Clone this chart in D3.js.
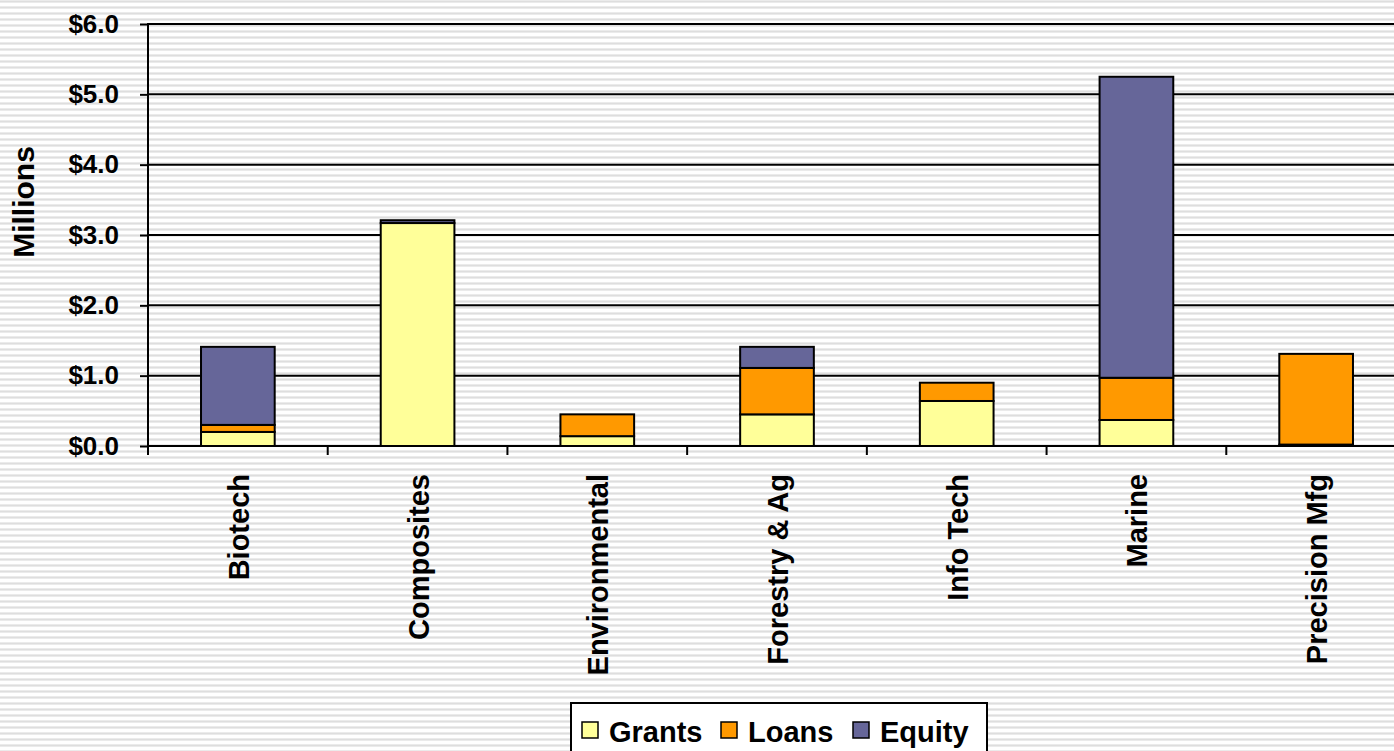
<!DOCTYPE html>
<html><head><meta charset="utf-8">
<script src="https://cdn.jsdelivr.net/npm/d3@7"></script>
<style>html,body{margin:0;padding:0;background:#fff;overflow:hidden}</style>
</head><body>
<svg id="chart" width="1394" height="751"></svg>
<script>
const categories = ["Biotech","Composites","Environmental","Forestry & Ag","Info Tech","Marine","Precision Mfg"];
const grants = [0.20, 3.17, 0.14, 0.45, 0.64, 0.37, 0.02];
const loans  = [0.10, 0.00, 0.31, 0.66, 0.26, 0.60, 1.29];
const equity = [1.11, 0.04, 0.00, 0.30, 0.00, 4.28, 0.00];
const seriesNames = ["Grants","Loans","Equity"];
const seriesColors = ["#FFFF99","#FF9900","#666699"];
const yTicks = [0,1,2,3,4,5,6];

const svg = d3.select("#chart");
const W = 1394, H = 751;
const pLeft = 148, pRight = 1406, pTop = 24, pBottom = 446;
const FONT = "Liberation Sans, Arial, sans-serif";

// striped background
const defs = svg.append("defs");
const pat = defs.append("pattern").attr("id","stripes").attr("patternUnits","userSpaceOnUse")
  .attr("width",10).attr("height",6);
pat.append("rect").attr("width",10).attr("height",6).attr("fill","#ffffff");
pat.append("rect").attr("y",0).attr("width",10).attr("height",1).attr("fill","#ebebeb");
pat.append("rect").attr("y",1).attr("width",10).attr("height",1).attr("fill","#dedede");
pat.append("rect").attr("y",2).attr("width",10).attr("height",1).attr("fill","#ebebeb");
svg.append("rect").attr("width",W).attr("height",H).attr("fill","url(#stripes)");

const x = d3.scaleBand().domain(categories).range([pLeft,pRight]).paddingInner(0).paddingOuter(0);
const y = d3.scaleLinear().domain([0,6]).range([pBottom,pTop]);
const barW = x.bandwidth()*0.41;

// gridlines
svg.append("g").selectAll("line").data(yTicks.filter(d=>d>0)).join("line")
  .attr("x1",pLeft).attr("x2",pRight).attr("y1",d=>y(d)).attr("y2",d=>y(d))
  .attr("stroke","#000").attr("stroke-width",2);

// stacked data
const rows = categories.map((c,i)=>({cat:c, Grants:grants[i], Loans:loans[i], Equity:equity[i]}));
const stack = d3.stack().keys(seriesNames)(rows);
const g = svg.append("g");
stack.forEach((s,si)=>{
  g.append("g").selectAll("rect").data(s.filter(d=>d[1]-d[0]>0)).join("rect")
    .attr("x",d=>x(d.data.cat)+x.bandwidth()/2-barW/2)
    .attr("width",barW)
    .attr("y",d=>y(d[1]))
    .attr("height",d=>y(d[0])-y(d[1]))
    .attr("fill",seriesColors[si])
    .attr("stroke","#000").attr("stroke-width",2);
});

// y axis
const yAxis = d3.axisLeft(y).tickValues(yTicks).tickFormat(d=>"$"+d.toFixed(1)).tickSize(8).tickPadding(21);
const ya = svg.append("g").attr("transform",`translate(${pLeft},0)`).call(yAxis);
ya.select(".domain").remove();
ya.selectAll("line").attr("stroke","#000").attr("stroke-width",2);
ya.selectAll("text").attr("font-family",FONT).attr("font-weight","bold")
  .attr("font-size",26).attr("fill","#000");
svg.append("line").attr("x1",pLeft).attr("x2",pLeft).attr("y1",pTop-1).attr("y2",pBottom)
  .attr("stroke","#000").attr("stroke-width",2);

// x axis
const bounds = categories.map(c=>x(c)).concat([pRight]);
svg.append("line").attr("x1",pLeft).attr("x2",W).attr("y1",pBottom).attr("y2",pBottom)
  .attr("stroke","#000").attr("stroke-width",2);
svg.append("g").selectAll("line").data(bounds).join("line")
  .attr("x1",d=>d).attr("x2",d=>d).attr("y1",pBottom).attr("y2",pBottom+9)
  .attr("stroke","#000").attr("stroke-width",2);
svg.append("g").selectAll("text").data(categories).join("text")
  .attr("transform",d=>`translate(${x(d)+x.bandwidth()/2+11},474) rotate(-90)`)
  .attr("text-anchor","end")
  .attr("font-family",FONT).attr("font-weight","bold")
  .attr("font-size",29).attr("fill","#000")
  .text(d=>d);

// y title
svg.append("text").attr("transform","translate(34,202) rotate(-90)").attr("text-anchor","middle")
  .attr("font-family",FONT).attr("font-weight","bold")
  .attr("font-size",30).attr("fill","#000").text("Millions");

// legend
const lg = svg.append("g");
lg.append("rect").attr("x",571).attr("y",703).attr("width",416).attr("height",60)
  .attr("fill","#fff").attr("stroke","#000").attr("stroke-width",2);
const legX = [582, 721, 853];
seriesNames.forEach((n,i)=>{
  lg.append("rect").attr("x",legX[i]).attr("y",722).attr("width",16).attr("height",16)
    .attr("fill",seriesColors[i]).attr("stroke","#000").attr("stroke-width",1.5);
  lg.append("text").attr("x",legX[i]+27).attr("y",742)
    .attr("font-family",FONT).attr("font-weight","bold")
    .attr("font-size",29).attr("fill","#000").text(n);
});
</script>
</body></html>
